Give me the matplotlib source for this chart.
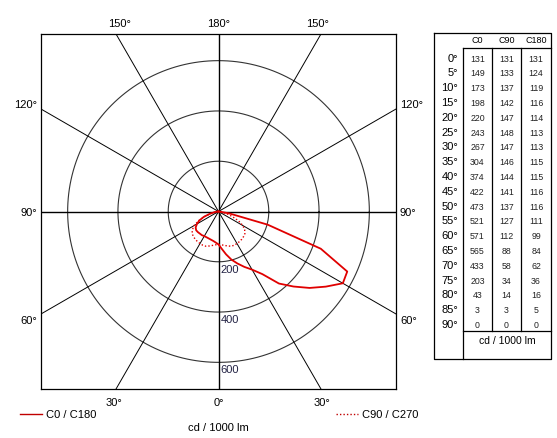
import numpy as np
import matplotlib
matplotlib.use("Agg")
import matplotlib.pyplot as plt

plt.rcParams['font.family'] = ['Liberation Sans', 'DejaVu Sans']

gamma = [0, 5, 10, 15, 20, 25, 30, 35, 40, 45, 50, 55, 60, 65, 70, 75, 80, 85, 90]
c0 = [131, 149, 173, 198, 220, 243, 267, 304, 374, 422, 473, 521, 571, 565, 433, 203, 43, 3, 0]
c90 = [131, 133, 137, 142, 147, 148, 147, 146, 144, 141, 137, 127, 112, 88, 58, 34, 14, 3, 0]
c180 = [131, 124, 119, 116, 114, 113, 113, 115, 115, 116, 116, 111, 99, 84, 62, 36, 16, 5, 0]
c270 = c90
rings = [200, 400, 600]
spokes = [0, 30, 60, 90, 120, 150]
col_names = ["C0", "C90", "C180"]
unit = "cd / 1000 lm"
legend_labels = ["C0 / C180", "C90 / C270"]

W, H = 557, 439
fig = plt.figure(figsize=(W / 100, H / 100), dpi=100)

# main polar-like plot in cartesian axes
L, R, T, B = 41, 396, 35, 390
ax = fig.add_axes([L / W, 1 - B / H, (R - L) / W, (B - T) / H])
lim = 706
ax.set_xlim(-lim, lim)
ax.set_ylim(-lim, lim)
ax.set_xticks([])
ax.set_yticks([])
for s in ax.spines.values():
    s.set_linewidth(0.9)
    s.set_color('black')

th = np.linspace(0, 2 * np.pi, 400)
for r in rings:
    ax.plot(r * np.cos(th), r * np.sin(th), color='#333333', lw=0.8)
for a in spokes:
    ar = np.deg2rad(a)
    big = 3000
    lw = 1.0 if a in (0, 90) else 0.7
    ax.plot([-big * np.sin(ar), big * np.sin(ar)], [big * np.cos(ar), -big * np.cos(ar)],
            color='black', lw=lw)

g = np.deg2rad(np.array(gamma))

def loop(right, left):
    right = np.array(right, float)
    left = np.array(left, float)
    xs = np.concatenate([-left[::-1] * np.sin(g[::-1]), right * np.sin(g)])
    ys = np.concatenate([-left[::-1] * np.cos(g[::-1]), -right * np.cos(g)])
    return xs, ys

x1, y1 = loop(c0, c180)
ax.plot(x1, y1, color='#e00000', lw=1.3, zorder=5)
x2, y2 = loop(c90, c270)
ax.plot(x2, y2, color='#e00000', lw=1.0, ls=(0, (1, 1.5)), zorder=5)

for r in rings:
    ax.text(8, -r - 8, str(r), ha='left', va='top', fontsize=8, color='#222244')

# full-figure overlay axes in pixel coords
ov = fig.add_axes([0, 0, 1, 1])
ov.set_xlim(0, W)
ov.set_ylim(H, 0)
ov.axis('off')
fs = 8
cx, cy = 218.5, 212.5
ov.text(cx, 24, "180°", ha='center', va='center', fontsize=fs)
ov.text(120, 24, "150°", ha='center', va='center', fontsize=fs)
ov.text(318, 24, "150°", ha='center', va='center', fontsize=fs)
ov.text(cx, 403, "0°", ha='center', va='center', fontsize=fs)
ov.text(114, 403, "30°", ha='center', va='center', fontsize=fs)
ov.text(322, 403, "30°", ha='center', va='center', fontsize=fs)
for lab, yy in (("120°", 105), ("90°", 213), ("60°", 321)):
    ov.text(37, yy, lab, ha='right', va='center', fontsize=fs)
    ov.text(400, yy, lab, ha='left', va='center', fontsize=fs)

ov.plot([20, 42], [415, 415], color='#c00000', lw=1.0)
ov.text(46, 415, legend_labels[0], ha='left', va='center', fontsize=fs)
ov.plot([336, 358], [415, 415], color='#c00000', lw=1.0, ls=(0, (1, 1.5)))
ov.text(362, 415, legend_labels[1], ha='left', va='center', fontsize=fs)
ov.text(cx, 428, unit, ha='center', va='center', fontsize=fs)

# table
tl, tr, tt, tb = 434, 551, 34, 360
c1, c2, c3 = 463, 492, 521
hline, foot = 49, 332
lwt = 0.9
ov.plot([tl, tr, tr, tl, tl], [tt, tt, tb, tb, tt], color='black', lw=lwt)
ov.plot([c1, tr], [hline, hline], color='black', lw=lwt)
ov.plot([c1, tr], [foot, foot], color='black', lw=lwt)
ov.plot([c1, c1], [hline, tb], color='black', lw=lwt)
ov.plot([c2, c2], [hline, foot], color='black', lw=lwt)
ov.plot([c3, c3], [hline, foot], color='black', lw=lwt)
colx = [(c1 + c2) / 2, (c2 + c3) / 2, (c3 + tr) / 2]
for xx, nm in zip(colx, col_names):
    ov.text(xx, 40.5, nm, ha='center', va='center', fontsize=6.5)
y0, dy = 58.5, (325 - 58.5) / 18
for i, gg in enumerate(gamma):
    yy = y0 + i * dy
    ov.text(458, yy, f"{gg}°", ha='right', va='center', fontsize=8)
    for xx, vals in zip(colx, (c0, c90, c180)):
        ov.text(xx, yy + 0.5, str(vals[i]), ha='center', va='center', fontsize=6.3, color='#222222')
ov.text((c1 + tr) / 2, 341, unit, ha='center', va='center', fontsize=7.5)

fig.savefig("out.png", dpi=100)
